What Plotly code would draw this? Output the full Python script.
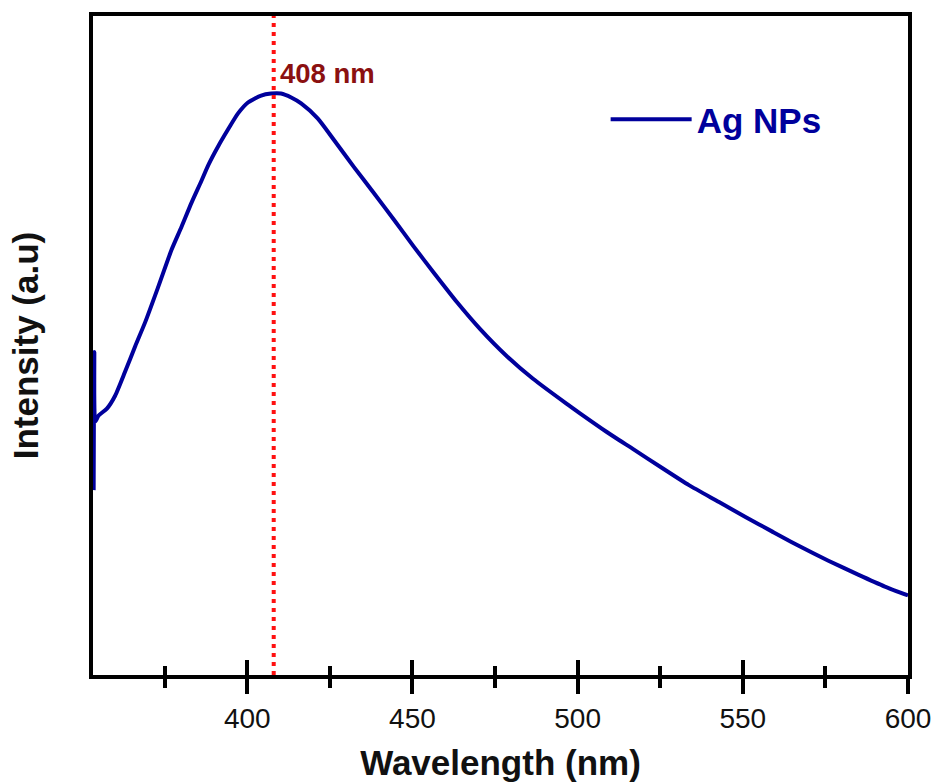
import plotly.graph_objects as go

# Wavelength (nm) and intensity (a.u.)
wavelength = [353.5, 353.7, 354.0, 355.0, 357.5, 360.0, 363.0, 366.1, 369.1, 373.1,
              377.1, 380.1, 383.1, 386.1, 388.2, 391.2, 394.2, 397.2, 400.2, 404.2,
              407.2, 410.2, 413.3, 416.3, 421.3, 426.3, 432.3, 438.3, 444.4, 450.4,
              456.4, 463.5, 470.5, 478.5, 486.5, 496.6, 500.6, 508.6, 516.7, 525.7,
              533.7, 542.8, 550.8, 558.8, 566.9, 575.9, 584.9, 593.0, 600.0]
intensity = [186, 325, 255, 261, 268, 281, 305, 331, 355, 391,
             428, 451, 475, 497, 513, 532, 549, 565, 576, 583,
             585, 585, 581, 575, 560, 538, 511, 485, 458, 431,
             405, 375, 348, 321, 298, 273, 263.5, 245, 227.5, 208,
             191, 174, 159, 144.5, 130, 115, 101, 89, 80]

peak_nm = 408
peak_label = "408 nm"
series_name = "Ag NPs"
major_ticks = [400, 450, 500, 550, 600]
minor_ticks = [375, 425, 475, 525, 575]
x_range = [353.3, 600]
y_range = [0, 663]

LINE_COLOR = "#00009C"
FONT = "Liberation Sans, Arial, sans-serif"

fig = go.Figure()
fig.add_trace(go.Scatter(
    x=wavelength, y=intensity, mode="lines", name=series_name,
    line=dict(color=LINE_COLOR, width=4, shape="spline", smoothing=0.6),
))
# invisible companion trace so the inward-tick overlay axis renders
fig.add_trace(go.Scatter(
    x=wavelength, y=intensity, mode="lines", xaxis="x2", showlegend=False,
    opacity=0, hoverinfo="skip", line=dict(width=0.1),
))

fig.add_shape(type="line", xref="x", yref="paper", x0=peak_nm, x1=peak_nm, y0=0, y1=1,
              line=dict(color="#FF1010", width=4, dash="4px,5px"), layer="above")

fig.add_annotation(x=peak_nm, y=605, xref="x", yref="y", text="<b>" + peak_label + "</b>",
                   showarrow=False, xanchor="left", yanchor="middle", xshift=4,
                   font=dict(family=FONT, size=27.5, color="#8B1010"))

fig.update_layout(
    width=936, height=782,
    margin=dict(l=93, r=28, t=16, b=107),
    paper_bgcolor="white", plot_bgcolor="white",
    font=dict(family=FONT, color="black"),
    showlegend=True,
    legend=dict(x=0.629, y=0.843, xanchor="left", yanchor="middle",
                bgcolor="rgba(0,0,0,0)", itemwidth=81,
                font=dict(family=FONT, size=35, color=LINE_COLOR, weight="bold")),
    xaxis=dict(
        range=x_range, showgrid=False, zeroline=False,
        showline=True, linecolor="black", linewidth=4, mirror=True,
        tickmode="array", tickvals=major_ticks, ticks="outside", ticklen=15,
        tickwidth=4, tickcolor="black",
        minor=dict(tickmode="array", tickvals=minor_ticks, ticks="outside",
                   ticklen=9, tickwidth=4, tickcolor="black"),
        tickfont=dict(family=FONT, size=28, color="#111111"),
        ticklabelstandoff=0,
        title=dict(text="<b>Wavelength (nm)</b>", standoff=32,
                   font=dict(family=FONT, size=35, color="#111111")),
        automargin=False,
    ),
    xaxis2=dict(
        range=x_range, overlaying="x", anchor="y", side="bottom",
        showgrid=False, zeroline=False, showline=False,
        tickmode="array", tickvals=major_ticks, ticks="inside", ticklen=15,
        tickwidth=4, tickcolor="black", showticklabels=False,
        minor=dict(tickmode="array", tickvals=minor_ticks, ticks="inside",
                   ticklen=9, tickwidth=4, tickcolor="black"),
    ),
    yaxis=dict(
        range=y_range, showgrid=False, zeroline=False,
        showline=True, linecolor="black", linewidth=4, mirror=True,
        ticks="", showticklabels=False,
        title=dict(text="<b>Intensity (a.u)</b>", standoff=41,
                   font=dict(family=FONT, size=35, color="#111111")),
        automargin=False,
    ),
)

# remove the default page margin so the 936x782 figure fills the window exactly
fig.write_html("out.html", config={"displayModeBar": False},
               post_script="document.body.style.margin='0px';")
